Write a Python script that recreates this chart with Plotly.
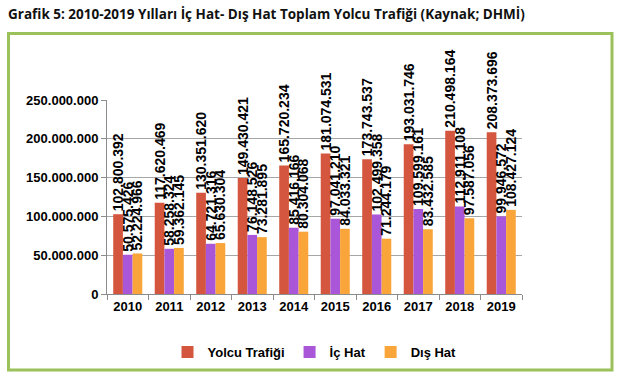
import plotly.graph_objects as go

years = ["2010", "2011", "2012", "2013", "2014", "2015", "2016", "2017", "2018", "2019"]
yolcu = [102800392, 117620469, 130351620, 149430421, 165720234, 181074531, 173743537, 193031746, 210498164, 208373696]
ic_hat = [50575426, 58258324, 64721316, 76148526, 85416166, 97041210, 102499358, 109599161, 112911108, 99946572]
dis_hat = [52224966, 59362145, 65630304, 73281895, 80304068, 84033321, 71244179, 83432585, 97587056, 108427124]
series_names = ["Yolcu Trafiği", "İç Hat", "Dış Hat"]
colors = ["#D4563E", "#A957D8", "#F9A53A"]
tick_vals = [0, 50000000, 100000000, 150000000, 200000000, 250000000]


def fmt(v):
    return f"{v:,}".replace(",", ".")


tick_text = [fmt(v) for v in tick_vals]
W, H = 621, 379
L, R, T, B = 107, 99, 100, 85
pw, ph = W - L - R, H - T - B

fig = go.Figure()
for name, vals, col in zip(series_names, [yolcu, ic_hat, dis_hat], colors):
    fig.add_trace(go.Bar(
        x=years, y=vals, name=name, marker_color=col, marker_line_width=0,
        text=[fmt(v) for v in vals], textposition="outside", textangle=-90,
        constraintext="none", cliponaxis=False,
        textfont=dict(family="Liberation Sans", size=14, color="black", weight="bold"),
    ))


def px_x(p):
    return (p - L) / pw


def px_y(p):
    return (H - B - p) / ph


fig.update_layout(
    width=W, height=H,
    margin=dict(l=L, r=R, t=T, b=B),
    paper_bgcolor="white", plot_bgcolor="white",
    barmode="group", bargap=0.3, bargroupgap=0,
    font=dict(family="Liberation Sans", size=13, color="black"),
    title=dict(text="<b>Grafik 5: 2010-2019 Yılları İç Hat- Dış Hat Toplam Yolcu Trafiği (Kaynak; DHMİ)</b>",
               xref="container", yref="container", x=8 / W, xanchor="left",
               y=1 - 14 / H, yanchor="middle",
               font=dict(family="Open Sans", size=13.5, color="#111111")),
    showlegend=True,
    legend=dict(orientation="h", x=0.5, xanchor="center", y=px_y(352), yanchor="middle",
                font=dict(family="Liberation Sans", size=13, color="black", weight="bold"),
                itemsizing="constant", traceorder="normal"),
    shapes=[dict(type="rect", xref="paper", yref="paper",
                 x0=px_x(8.5), x1=px_x(612), y0=px_y(370), y1=px_y(33.5),
                 line=dict(color="#9BC25A", width=3), fillcolor="rgba(0,0,0,0)", layer="below")],
)
fig.update_xaxes(showline=True, linecolor="#8C8C8C", linewidth=1, ticks="outside", tickson="boundaries",
                 ticklen=5, tickcolor="#8C8C8C", showgrid=False,
                 tickfont=dict(family="Liberation Sans", size=13, color="black", weight="bold"))
fig.update_yaxes(range=[0, 250000000], tickvals=tick_vals, ticktext=tick_text, showline=True,
                 linecolor="#8C8C8C", linewidth=1, ticks="outside", ticklen=5, tickcolor="#8C8C8C",
                 gridcolor="#A6A6A6", gridwidth=1, zeroline=False,
                 tickfont=dict(family="Liberation Sans", size=13, color="black", weight="bold"))

fig.write_html("out.html", config={"displayModeBar": False},
               post_script="document.body.style.margin='0';document.body.style.overflow='hidden';")
